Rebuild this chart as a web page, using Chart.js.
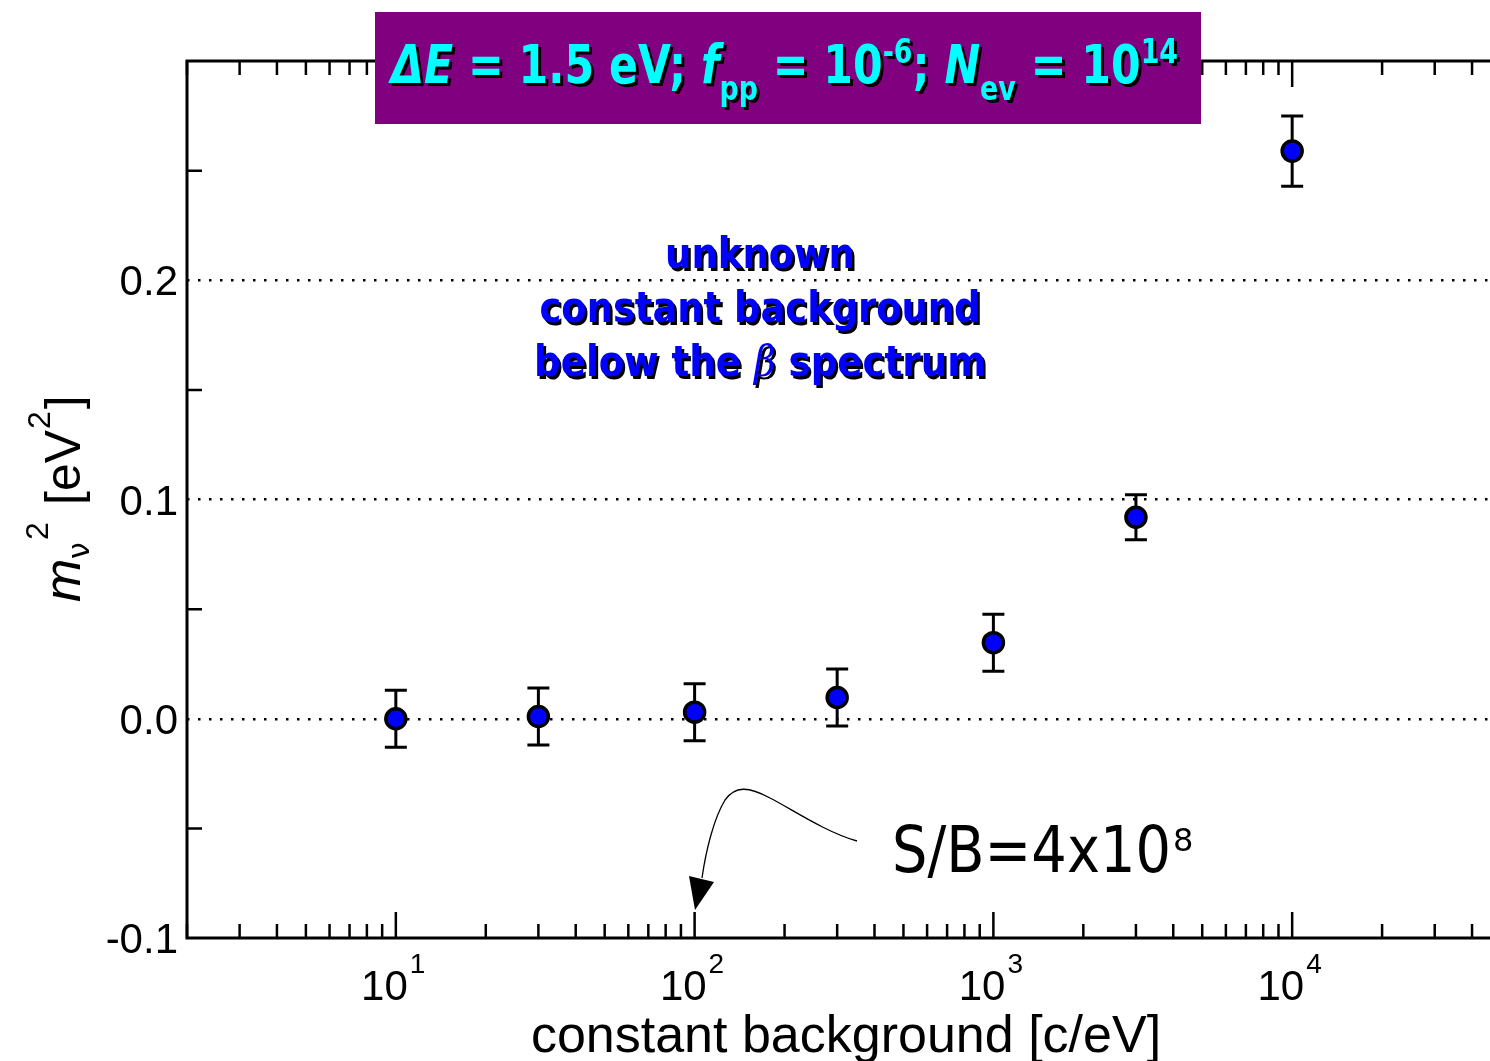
<!DOCTYPE html>
<html><head><meta charset="utf-8">
<script src="https://cdn.jsdelivr.net/npm/chart.js@4.4.1/dist/chart.umd.min.js"></script>
<style>
html,body{margin:0;padding:0;background:#fff;overflow:hidden;width:1490px;height:1061px}
#wrap{position:absolute;left:0;top:0;width:1520px;height:1061px}
</style>
</head><body><div id="wrap"><canvas id="c" width="1520" height="1061"></canvas></div>
<script>
// ---- data ----
const backgrounds = [10, 30, 100, 300, 1000, 3000, 10000];
const mnu2 = [0.000, 0.001, 0.003, 0.0097, 0.0347, 0.0919, 0.2589];
const mnu2Err = [0.013, 0.013, 0.013, 0.013, 0.013, 0.0103, 0.016];
const xMajorTicks = [10, 100, 1000, 10000];
const xTickExponents = ['1', '2', '3', '4'];
const yTickValues = [-0.1, 0.0, 0.1, 0.2];
const yTickLabels = ['-0.1', '0.0', '0.1', '0.2'];
const yGridValues = [0.0, 0.1, 0.2];
const yMinorTicks = [-0.05, 0.05, 0.15, 0.25];
const xMinorMultipliers = [2, 3, 4, 5, 6, 7, 8, 9];
const xDecades = [1, 10, 100, 1000, 10000];
const xTitle = 'constant background [c/eV]';
const annotationLines = ['unknown', 'constant background', 'below the ', 'β', ' spectrum'];
const sbText = 'S/B=4x10';
const sbExp = '8';

function drawRich(ctx, segs, x0, base, targetW, align) {
  let w = 0;
  segs.forEach(s => { ctx.font = s.font; s.w = ctx.measureText(s.t).width; w += s.w; });
  const sx = targetW ? targetW / w : 1;
  let start = x0;
  if (align === 'center') start = x0 - (w * sx) / 2;
  ctx.save();
  ctx.translate(start, base);
  ctx.scale(sx, 1);
  let x = 0;
  segs.forEach(s => {
    ctx.font = s.font;
    ctx.textAlign = 'left';
    ctx.textBaseline = 'alphabetic';
    ctx.fillText(s.t, x, s.dy || 0);
    x += s.w;
  });
  ctx.restore();
}

const errorBars = {
  id: 'errorBars',
  beforeDatasetsDraw(chart) {
    const {ctx, scales: {x, y}} = chart;
    ctx.save();
    ctx.strokeStyle = '#000';
    ctx.lineWidth = 3;
    backgrounds.forEach((b, i) => {
      const px = x.getPixelForValue(b);
      const top = y.getPixelForValue(mnu2[i] + mnu2Err[i]);
      const bot = y.getPixelForValue(mnu2[i] - mnu2Err[i]);
      ctx.beginPath();
      ctx.moveTo(px, top); ctx.lineTo(px, bot);
      ctx.moveTo(px - 11, top); ctx.lineTo(px + 11, top);
      ctx.moveTo(px - 11, bot); ctx.lineTo(px + 11, bot);
      ctx.stroke();
    });
    ctx.restore();
  }
};

const decorations = {
  id: 'decorations',
  afterDraw(chart) {
    const {ctx, chartArea: a, scales: {x, y}} = chart;
    ctx.save();
    // frame
    ctx.strokeStyle = '#000';
    ctx.lineWidth = 3;
    ctx.strokeRect(a.left, a.top, a.right - a.left, a.bottom - a.top);
    // x ticks (bottom and top, inward)
    ctx.lineWidth = 2.5;
    ctx.beginPath();
    xDecades.forEach(d => {
      xMinorMultipliers.forEach(m => {
        const v = d * m;
        if (v < x.min || v > x.max) return;
        const px = x.getPixelForValue(v);
        ctx.moveTo(px, a.bottom); ctx.lineTo(px, a.bottom - 14);
        ctx.moveTo(px, a.top); ctx.lineTo(px, a.top + 14);
      });
    });
    xMajorTicks.forEach(v => {
      const px = x.getPixelForValue(v);
      ctx.moveTo(px, a.bottom); ctx.lineTo(px, a.bottom - 26);
      ctx.moveTo(px, a.top); ctx.lineTo(px, a.top + 26);
    });
    yMinorTicks.forEach(v => {
      const py = y.getPixelForValue(v);
      ctx.moveTo(a.left, py); ctx.lineTo(a.left + 15, py);
    });
    ctx.stroke();

    // x tick labels
    ctx.fillStyle = '#000';
    xMajorTicks.forEach((v, i) => {
      const px = x.getPixelForValue(v);
      ctx.font = '42px "Liberation Sans", Arial, sans-serif';
      ctx.textAlign = 'right'; ctx.textBaseline = 'alphabetic';
      ctx.fillText('10', px + 12, 1000);
      ctx.font = '28px "Liberation Sans", Arial, sans-serif';
      ctx.textAlign = 'left';
      ctx.fillText(xTickExponents[i], px + 14, 973);
    });
    // y tick labels
    ctx.font = '42px "Liberation Sans", Arial, sans-serif';
    ctx.textAlign = 'right';
    yTickValues.forEach((v, i) => {
      const py = y.getPixelForValue(v);
      ctx.fillText(yTickLabels[i], 178, py + 15);
    });
    // x title
    ctx.font = '52px "Liberation Sans", Arial, sans-serif';
    ctx.textAlign = 'center';
    ctx.fillText(xTitle, 846, 1052);

    // y title (rotated)
    ctx.save();
    ctx.translate(80, 602);
    ctx.rotate(-Math.PI / 2);
    ctx.textAlign = 'left';
    ctx.font = 'italic 52px "Liberation Sans", Arial, sans-serif';
    ctx.fillText('m', 0, 0);
    ctx.font = '30px "DejaVu Sans", sans-serif';
    ctx.fillText('ν', 43, 9);
    ctx.font = '32px "Liberation Sans", Arial, sans-serif';
    ctx.fillText('2', 62, -32);
    ctx.font = '50px "Liberation Sans", Arial, sans-serif';
    ctx.fillText('[eV', 97, 0);
    let w = ctx.measureText('[eV').width;
    ctx.font = '32px "Liberation Sans", Arial, sans-serif';
    ctx.fillText('2', 97 + w + 1, -30);
    let w2 = ctx.measureText('2').width;
    ctx.font = '50px "Liberation Sans", Arial, sans-serif';
    ctx.fillText(']', 97 + w + w2 + 3, 0);
    ctx.restore();

    // blue annotation
    ctx.save();
    ctx.fillStyle = '#0000ff';
    ctx.shadowColor = '#000';
    ctx.shadowOffsetX = 2.5; ctx.shadowOffsetY = 2.5; ctx.shadowBlur = 0;
    const bf = 'bold 43px "DejaVu Sans", sans-serif';
    drawRich(ctx, [{t: annotationLines[0], font: bf}], 760, 268, 190, 'center');
    drawRich(ctx, [{t: annotationLines[1], font: bf}], 760, 322, 441, 'center');
    drawRich(ctx, [{t: annotationLines[2], font: bf}, {t: annotationLines[3], font: 'italic 43px "DejaVu Serif", serif'}, {t: annotationLines[4], font: bf}], 760, 376, 452, 'center');
    ctx.restore();

    // S/B annotation
    ctx.fillStyle = '#000';
    drawRich(ctx, [{t: sbText, font: '64px "DejaVu Sans", sans-serif'}], 892, 872, 279, 'left');
    ctx.font = '32px "DejaVu Sans", sans-serif';
    ctx.textAlign = 'left';
    ctx.fillText(sbExp, 1173, 851);

    // curved arrow
    ctx.strokeStyle = '#000';
    ctx.lineWidth = 1.3;
    ctx.beginPath();
    ctx.moveTo(857, 841);
    ctx.bezierCurveTo(825, 832, 790, 808, 770, 798);
    ctx.bezierCurveTo(748, 786, 735, 786, 725, 800);
    ctx.bezierCurveTo(714, 818, 706, 850, 702, 878);
    ctx.stroke();
    ctx.beginPath();
    ctx.moveTo(695, 910); ctx.lineTo(689, 876); ctx.lineTo(714, 882); ctx.closePath();
    ctx.fill();

    // header box
    ctx.fillStyle = '#800080';
    ctx.fillRect(375, 12, 826, 112);
    ctx.fillStyle = '#00ffff';
    ctx.shadowColor = '#000';
    ctx.shadowOffsetX = 3; ctx.shadowOffsetY = 3; ctx.shadowBlur = 0;
    const hb = 'bold 54px "DejaVu Sans", sans-serif';
    const hi = 'italic bold 54px "DejaVu Sans", sans-serif';
    const hs = 'bold 34px "DejaVu Sans", sans-serif';
    drawRich(ctx, [
      {t: 'Δ', font: hi}, {t: 'E', font: hi}, {t: ' = 1.5 eV; ', font: hb},
      {t: 'f', font: hi}, {t: 'pp', font: hs, dy: 17}, {t: ' = 10', font: hb},
      {t: '-6', font: hs, dy: -20}, {t: '; ', font: hb},
      {t: 'N', font: hi}, {t: 'ev', font: hs, dy: 17}, {t: ' = 10', font: hb},
      {t: '14', font: hs, dy: -20}
    ], 391, 83, 787, 'left');
    ctx.restore();
  }
};

new Chart(document.getElementById('c'), {
  type: 'scatter',
  data: {
    datasets: [{
      data: backgrounds.map((b, i) => ({x: b, y: mnu2[i]})),
      pointRadius: 10, pointHoverRadius: 10,
      backgroundColor: '#0000ff', borderColor: '#000', borderWidth: 3.5
    }]
  },
  options: {
    responsive: false, animation: false, events: [],
    layout: {padding: {left: 187, top: 61, right: 19, bottom: 123}},
    plugins: {legend: {display: false}, tooltip: {enabled: false}},
    scales: {
      x: {
        type: 'logarithmic', min: 2, max: 50000,
        ticks: {display: false}, grid: {display: false, drawTicks: false}, border: {display: false}
      },
      y: {
        type: 'linear', min: -0.1, max: 0.3,
        afterBuildTicks: s => { s.ticks = [-0.1, 0, 0.1, 0.2, 0.3].map(v => ({value: v})); },
        ticks: {display: false},
        grid: {
          drawTicks: false, lineWidth: 2.5,
          color: c => (c.tick && yGridValues.some(v => Math.abs(v - c.tick.value) < 1e-9)) ? '#000' : 'rgba(0,0,0,0)'
        },
        border: {display: false, dash: [2.5, 8.5]}
      }
    }
  },
  plugins: [errorBars, decorations]
});
</script>
</body></html>
